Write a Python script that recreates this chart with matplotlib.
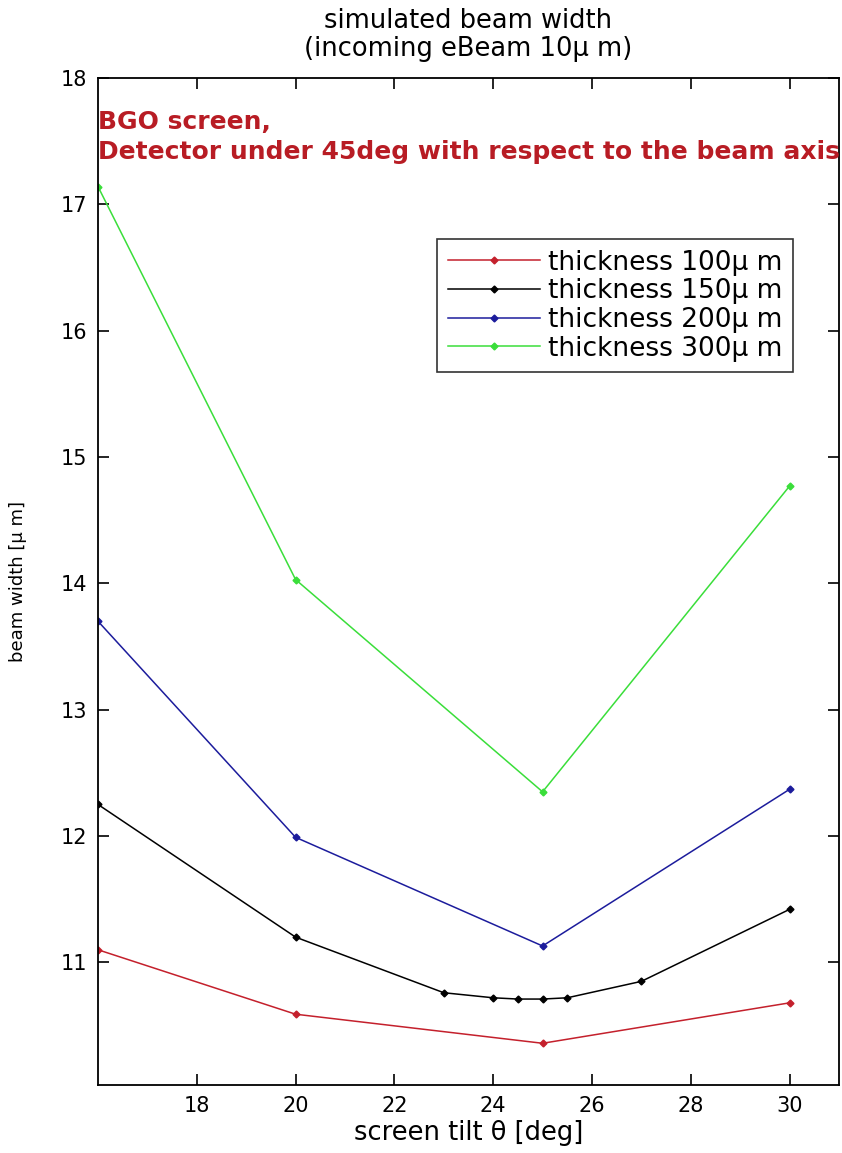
#!/usr/bin/env python3
import numpy as np
import matplotlib
matplotlib.use("Agg")
import matplotlib.pyplot as plt

# screen tilt [deg] and beam width [um]
tilt_100 = [16, 20, 25, 30]
width_100 = [11.10, 10.59, 10.36, 10.68]

tilt_150 = [16, 20, 23, 24, 24.5, 25, 25.5, 27, 30]
width_150 = [12.25, 11.20, 10.76, 10.72, 10.71, 10.71, 10.72, 10.85, 11.42]

tilt_200 = [16, 20, 25, 30]
width_200 = [13.70, 11.99, 11.13, 12.37]

tilt_300 = [16, 20, 25, 30]
width_300 = [17.14, 14.03, 12.35, 14.77]

labels = ["thickness 100\u03bc m", "thickness 150\u03bc m",
          "thickness 200\u03bc m", "thickness 300\u03bc m"]

#--------------------------------------------------------------------------#
plt.rcParams['font.family'] = ['DejaVu Sans']

fig = plt.figure(figsize=(8.42, 11.53), dpi=100)
ax = fig.add_axes([0.1164, 0.059, 0.88, 0.8734])

series = [(tilt_100, width_100, '#c4202c'),
          (tilt_150, width_150, 'black'),
          (tilt_200, width_200, '#1c1c9c'),
          (tilt_300, width_300, '#3ade3a')]
for (x, y, c), lab in zip(series, labels):
    ax.plot(x, y, color=c, lw=1.1, marker='D', ms=3.5, label=lab)

ax.set_xlim(16, 31)
ax.set_ylim(10.03, 18)
ax.set_xticks(np.arange(18, 31, 2))
ax.set_yticks(np.arange(11, 19, 1))
ax.tick_params(direction='in', length=8, width=1.2, top=True, right=True,
               labelsize=15, pad=8)
for s in ax.spines.values():
    s.set_linewidth(1.3)

ax.set_xlabel("screen tilt \u03b8 [deg]", fontsize=18.5, labelpad=3)
ax.set_ylabel("beam width [\u03bc m]", fontsize=13, labelpad=24)
ax.set_title("simulated beam width\n(incoming eBeam 10\u03bc m)", fontsize=18.5,
             linespacing=1.1, pad=16)

ax.text(0.0, 0.968, "BGO screen,\nDetector under 45deg with respect to the beam axis",
        transform=ax.transAxes, ha='left', va='top', fontsize=18,
        fontweight='bold', color='#b81c24', linespacing=1.3)

leg = ax.legend(loc='upper right', bbox_to_anchor=(0.938, 0.840), fontsize=19,
                frameon=True, fancybox=False, edgecolor='black', handlelength=3.5,
                borderpad=0.4, labelspacing=0.1, handletextpad=0.3,
                borderaxespad=0)
leg.get_frame().set_linewidth(1.2)

fig.savefig("out.png", dpi=100)
print("done")
